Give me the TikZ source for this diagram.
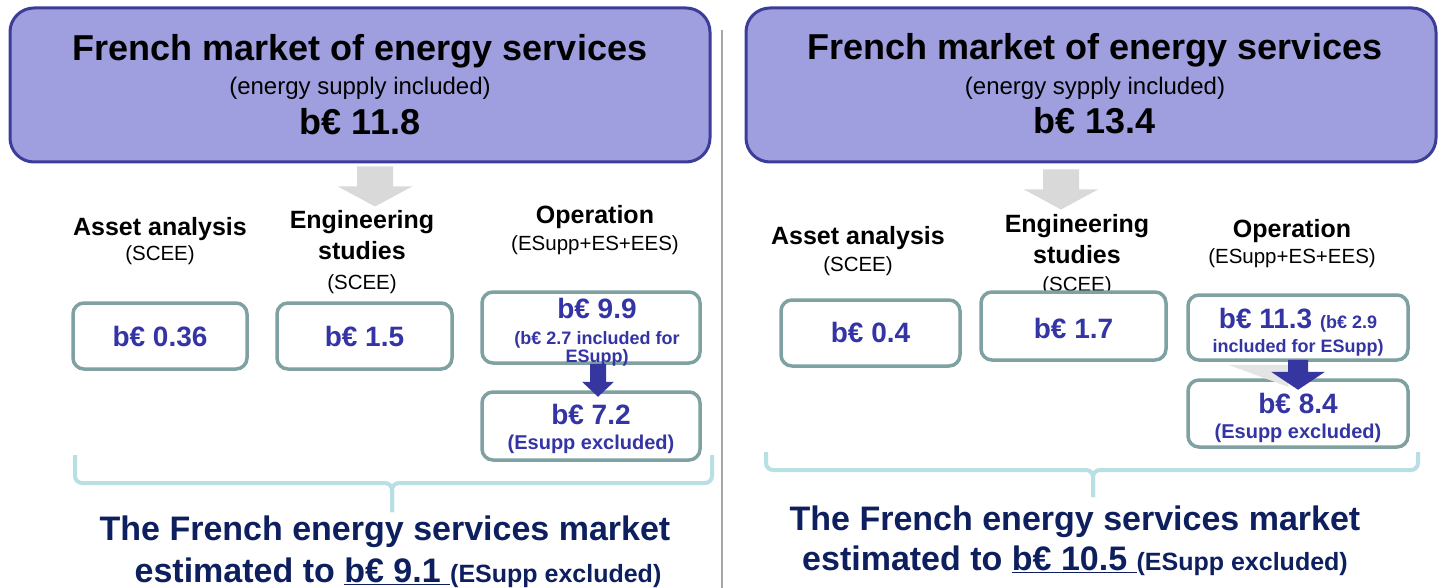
\documentclass[tikz,border=0pt]{standalone}
\usepackage{fontspec}
\setmainfont{Liberation Sans}
\usetikzlibrary{calc}
\definecolor{hdrfill}{HTML}{9F9FDF}
\definecolor{hdrdraw}{HTML}{3C3C99}
\definecolor{boxdraw}{HTML}{7FA1A1}
\definecolor{valblue}{HTML}{3434A4}
\definecolor{navytxt}{HTML}{0D1F5E}
\definecolor{bracecol}{HTML}{B7DFE4}
\definecolor{grayarr}{HTML}{D9D9D9}
\definecolor{darkarr}{HTML}{3636A0}
\definecolor{sepcol}{HTML}{A6A6A6}
\newcommand\fsz[1]{\fontsize{#1}{#1}\selectfont}
\begin{document}
\begin{tikzpicture}[x=1pt,y=-1pt,
  hdr/.style={draw=hdrdraw,line width=3pt,fill=hdrfill,rounded corners=24pt,inner sep=0pt},
  valbox/.style={draw=boxdraw,line width=3.5pt,fill=white,rounded corners=11pt,inner sep=0pt},
  t/.style={inner sep=0pt,anchor=base},
  ttl/.style={t,font=\fsz{36}\bfseries},
  sub/.style={t,font=\fsz{24}},
  colh/.style={t,font=\fsz{25}\bfseries},
  colsub/.style={t,font=\fsz{20.5}},
  val/.style={t,font=\fsz{28}\bfseries,text=valblue},
  valsm/.style={t,font=\fsz{18}\bfseries,text=valblue},
  valmd/.style={t,font=\fsz{20}\bfseries,text=valblue},
  concl/.style={t,font=\fsz{34}\bfseries,text=navytxt},
  brace/.style={draw=bracecol,line width=4pt,rounded corners=7pt},
]
\useasboundingbox (0,0) rectangle (1438,588);
\fill[white] (0,0) rectangle (1438,588);
% separator
\draw[sepcol,line width=1.5pt] (722,30) -- (722,588);

% ===== LEFT =====
\node[hdr,minimum width=700pt,minimum height=154pt] (LH) at (360,85) {};
\node[ttl] (LHt) at (360,61) {French market of energy services};
\node[sub] (LHs) at (360,95) {(energy supply included)};
\node[ttl] (LHv) at (360,135) {b€ 11.8};

\fill[grayarr] ($(LH.south)+(-3,3)$) -- ++(0,20) -- ++(-19,0) -- ++(37,20) -- ++(37,-20) -- ++(-19,0) -- ++(0,-20) -- cycle;

\node[colh] (LA) at (160,236) {Asset analysis};
\node[colsub] (LAs) at (160,261) {(SCEE)};
\node[colh] (LE) at (362,229) {Engineering};
\node[colh] (LE2) at (362,259) {studies};
\node[colsub] (LEs) at (362,289) {(SCEE)};
\node[colh] (LO) at (595,224) {Operation};
\node[colsub] (LOs) at (595,251) {(ESupp+ES+EES)};

\node[valbox,minimum width=174pt,minimum height=66pt] (L1) at (160,336) {};
\node[val] at (160,346) {b€ 0.36};
\node[valbox,minimum width=175pt,minimum height=66pt] (L2) at (364.5,336) {};
\node[val] at (364.5,346) {b€ 1.5};
\node[valbox,minimum width=218pt,minimum height=71pt] (L3) at (591,327.5) {};
\node[val] (L3v) at (597,318) {b€ 9.9};
\node[valsm] (L3a) at (597,344) {(b€ 2.7 included for};
\node[valsm] (L3b) at (597,362) {ESupp)};
\node[valbox,minimum width=218pt,minimum height=68pt] (L4) at (591,426) {};
\node[val] (L4v) at (591,424) {b€ 7.2};
\node[valmd] (L4a) at (591,449) {(Esupp excluded)};

\fill[darkarr] ($(L3.south)+(-1,-1)$) -- ++(0,18) -- ++(-8,0) -- ++(16,15) -- ++(16,-15) -- ++(-8,0) -- ++(0,-18) -- cycle;

\coordinate (LBl) at (75,455);
\coordinate (LBr) at (712,455);
\coordinate (LBt) at (392,512);
\draw[brace] (LBl) |- (LBt |- 0,483) -- (LBt);
\draw[brace] (LBr) |- (LBt |- 0,483) -- (LBt);

\node[concl] (LC1) at (385,540) {The French energy services market};
\node[concl] (LC2) at (398,582) {estimated to \underline{b€ 9.1\ }{\fsz{25}(ESupp excluded)}};

% ===== RIGHT =====
\node[hdr,minimum width=690pt,minimum height=154pt] (RH) at (1091,85) {};
\node[ttl] (RHt) at (1095,60) {French market of energy services};
\node[sub] (RHs) at (1095,95) {(energy sypply included)};
\node[ttl] (RHv) at (1095,134) {b€ 13.4};

\fill[grayarr] ($(RH.south)+(-48,6)$) -- ++(0,20) -- ++(-19,0) -- ++(37,20) -- ++(37,-20) -- ++(-19,0) -- ++(0,-20) -- cycle;

\node[colh] (RA) at (858,244) {Asset analysis};
\node[colsub] (RAs) at (858,271) {(SCEE)};
\node[colh] (RE) at (1077,233) {Engineering};
\node[colh] (RE2) at (1077,263) {studies};
\node[colsub] (REs) at (1077,291) {(SCEE)};
\node[colh] (RO) at (1292,237) {Operation};
\node[colsub] (ROs) at (1292,264) {(ESupp+ES+EES)};

\node[valbox,minimum width=179pt,minimum height=66pt] (R1) at (870.5,333) {};
\node[val] at (870.5,342) {b€ 0.4};
\node[valbox,minimum width=185pt,minimum height=68pt] (R2) at (1073.5,326) {};
\node[val] at (1073.5,338) {b€ 1.7};
\node[valbox,minimum width=220pt,minimum height=65pt] (R3) at (1298,327.5) {};
\node[t] (R3v) at (1298,328) {\textcolor{valblue}{\fsz{28}\bfseries b€ 11.3 \fsz{18}(b€ 2.9}};
\node[valsm] (R3a) at (1298,352) {included for ESupp)};
\node[valbox,minimum width=220pt,minimum height=67pt] (R4) at (1298,413.5) {};
\node[val] (R4v) at (1298,413) {b€ 8.4};
\node[valmd] (R4a) at (1298,438) {(Esupp excluded)};

\fill[grayarr!70] ($(R3.south)+(-70,3)$) -- ($(R3.south)+(-10,3)$) -- ($(R3.south)+(-10,25)$) -- cycle;
\fill[darkarr] ($(R3.south)+(-10,-2)$) -- ++(0,12) -- ++(-17,0) -- ++(27,18) -- ++(27,-18) -- ++(-17,0) -- ++(0,-12) -- cycle;

\coordinate (RBl) at (766,452);
\coordinate (RBr) at (1418,452);
\coordinate (RBt) at (1093,497);
\draw[brace] (RBl) |- (RBt |- 0,470) -- (RBt);
\draw[brace] (RBr) |- (RBt |- 0,470) -- (RBt);

\node[concl] (RC1) at (1075,530) {The French energy services market};
\node[concl] (RC2) at (1075,570) {estimated to \underline{b€ 10.5\ }{\fsz{25}(ESupp excluded)}};
\end{tikzpicture}
\end{document}
